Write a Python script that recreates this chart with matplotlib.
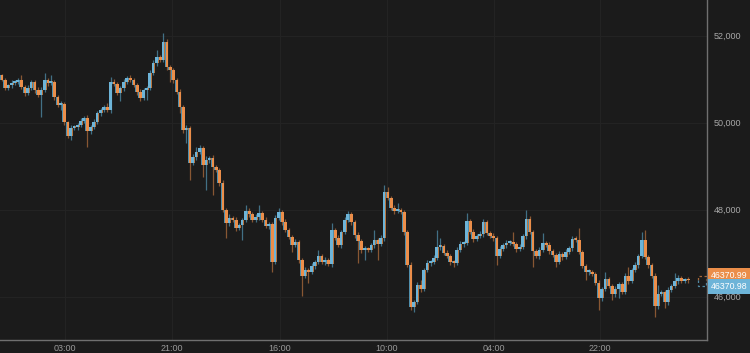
import matplotlib
matplotlib.use("Agg")
import matplotlib.pyplot as plt
import numpy as np

# close prices, one per candle
closes = [
    50981, 50797, 50866, 50912, 50935, 50981, 50820, 50682, 50797, 50935,
    50751, 50636, 50751, 50981, 50912, 50935, 50590, 50406, 50429, 50015,
    49693, 49877, 49900, 49946, 50038, 50107, 49808, 49900, 50015, 50222,
    50291, 50360, 50291, 50935, 50889, 50682, 50797, 50935, 51027, 50981,
    50866, 50705, 50567, 50751, 50797, 51142, 51372, 51510, 51441, 51855,
    51280, 51211, 50981, 50705, 50360, 49831, 49877, 49072, 49210, 49325,
    49417, 49026, 49141, 49187, 48980, 48911, 48612, 47991, 47692, 47807,
    47761, 47577, 47646, 47761, 47968, 47899, 47761, 47830, 47922, 47761,
    47623, 47669, 46795, 47807, 47945, 47715, 47531, 47370, 47186, 47255,
    46841, 46473, 46611, 46565, 46703, 46795, 46933, 46795, 46841, 46749,
    47531, 47347, 47186, 47485, 47761, 47899, 47715, 47416, 47278, 47071,
    47094, 47071, 47186, 47301, 47209, 47347, 48405, 48267, 48037, 47968,
    47991, 47945, 47485, 46726, 45760, 45875, 46266, 46174, 46611, 46772,
    46795, 46887, 47140, 47163, 47002, 46933, 46795, 46772, 47071, 47209,
    47232, 47738, 47485, 47324, 47393, 47439, 47715, 47462, 47393, 47347,
    46933, 47094, 47186, 47232, 47255, 47209, 47094, 47140, 47393, 47784,
    47485, 47048, 46933, 47071, 47232, 47186, 47048, 46956, 46795, 46979,
    46910, 47025, 47117, 47324, 47301, 47025, 46703, 46565, 46575, 46519,
    46312, 45967, 46174, 46404, 46243, 46059, 46174, 46289, 46105, 46473,
    46358, 46611, 46726, 46933, 47301, 46910, 46726, 46473, 45783, 46059,
    46105, 45875, 46151, 46243, 46358, 46427, 46358, 46404, 46370.99,
]
first_open = 51090

# wick lengths above / below the body (price units)
wick_up = [
    20, 40, 30, 60, 40, 50, 115, 40, 60, 50,
    40, 60, 70, 160, 40, 160, 50, 40, 60, 40,
    30, 60, 40, 50, 60, 40, 70, 40, 60, 40,
    50, 40, 90, 115, 60, 40, 50, 60, 40, 70,
    40, 50, 60, 40, 50, 70, 60, 160, 40, 210,
    60, 40, 50, 40, 60, 40, 70, 40, 60, 115,
    60, 40, 80, 50, 60, 40, 50, 60, 40, 90,
    40, 60, 50, 40, 140, 60, 40, 70, 180, 40,
    60, 40, 50, 60, 90, 40, 60, 40, 50, 60,
    40, 50, 60, 40, 70, 50, 140, 40, 60, 50,
    160, 40, 60, 50, 70, 60, 40, 50, 60, 40,
    60, 40, 50, 230, 40, 60, 160, 120, 50, 60,
    160, 40, 50, 40, 60, 40, 60, 110, 50, 60,
    40, 70, 390, 180, 50, 60, 40, 50, 70, 60,
    50, 180, 40, 60, 50, 70, 60, 40, 50, 60,
    40, 60, 50, 70, 40, 230, 50, 60, 40, 210,
    60, 40, 50, 60, 230, 40, 60, 50, 40, 60,
    50, 60, 40, 70, 60, 280, 40, 50, 60, 40,
    50, 60, 40, 160, 50, 40, 60, 50, 40, 60,
    210, 50, 60, 40, 180, 230, 50, 40, 60, 210,
    50, 40, 60, 50, 180, 60, 40, 30, 40,
]
wick_dn = [
    30, 50, 40, 60, 40, 50, 40, 60, 50, 40,
    60, 50, 510, 40, 60, 40, 70, 50, 115, 60,
    50, 90, 40, 60, 50, 40, 370, 60, 50, 40,
    60, 40, 50, 60, 40, 50, 180, 60, 40, 50,
    40, 60, 70, 50, 230, 40, 50, 60, 40, 50,
    70, 280, 60, 50, 140, 60, 300, 390, 50, 60,
    40, 280, 580, 60, 640, 50, 60, 40, 350, 60,
    50, 70, 40, 350, 40, 60, 50, 40, 60, 50,
    40, 60, 230, 50, 40, 60, 50, 40, 160, 50,
    60, 460, 50, 250, 40, 60, 50, 40, 60, 50,
    60, 40, 50, 60, 40, 50, 60, 70, 500, 60,
    230, 50, 40, 60, 370, 40, 60, 50, 40, 60,
    50, 40, 60, 50, 70, 110, 40, 60, 50, 40,
    60, 50, 40, 60, 50, 40, 60, 90, 40, 50,
    60, 40, 50, 60, 40, 50, 60, 40, 50, 60,
    200, 40, 50, 60, 40, 50, 60, 40, 50, 60,
    40, 370, 50, 60, 40, 50, 60, 40, 120, 50,
    60, 40, 50, 60, 40, 50, 50, 180, 60, 40,
    50, 280, 60, 40, 50, 140, 60, 210, 50, 40,
    60, 50, 40, 60, 50, 40, 60, 50, 250, 60,
    40, 140, 60, 50, 40, 60, 50, 40, 50,
]

tick_labels = ["03:00", "21:00", "16:00", "10:00", "04:00", "22:00"]
tick_pos = [19.2, 51.6, 84.4, 116.8, 149.2, 181.3]
y_ticks = [46000, 48000, 50000, 52000]
ask_price = "46370.99"
bid_price = "46370.98"

BG = "#1b1b1b"
BLUE = "#6db4d8"
ORANGE = "#eb8e4a"

closes = np.array(closes, dtype=float)
opens = np.concatenate([[first_open], closes[:-1]])
top = np.maximum(opens, closes)
bot = np.minimum(opens, closes)
highs = top + np.array(wick_up)
lows = bot - np.array(wick_dn)
x = np.arange(len(closes))
up = closes >= opens

fig = plt.figure(figsize=(7.5, 3.53), dpi=100, facecolor=BG)
ax = fig.add_axes([0, 13 / 353, 707 / 750, 340 / 353])
ax.set_facecolor(BG)

# grid
for p in tick_pos:
    ax.axvline(p, color="#232323", lw=0.8, zorder=0)
for v in y_ticks:
    ax.axhline(v, color="#232323", lw=0.8, zorder=0)

# wicks
ax.vlines(x[up], lows[up], highs[up], color="#4a8099", lw=0.9, alpha=0.85, zorder=1)
ax.vlines(x[~up], lows[~up], highs[~up], color="#9c6238", lw=0.9, alpha=0.85, zorder=1)

# bodies (a darker edge of the other side's colour gives the bid/ask two-tone)
h = np.maximum(top - bot, 35)
ax.bar(x[up] + 0.25, h[up], bottom=bot[up], width=0.7, color="#b7743f", lw=0, zorder=2)
ax.bar(x[~up] - 0.25, h[~up], bottom=bot[~up], width=0.7, color="#4f8eab", lw=0, zorder=2)
ax.bar(x[up] - 0.1, h[up], bottom=bot[up], width=0.8, color=BLUE, lw=0, zorder=3)
ax.bar(x[~up] + 0.1, h[~up], bottom=bot[~up], width=0.8, color=ORANGE, lw=0, zorder=3)

# dashed bracket of the live candle
last = closes[-1]
xa, xb = len(closes) + 2.2, len(closes) + 4.6
ax.plot([xa, xa, xb, xb], [last, last + 110, last + 110, last], ls=(0, (2, 2)),
        color="#a8683a", lw=0.9, zorder=2)
ax.plot([xa, xa, xb, xb], [last, last - 130, last - 130, last], ls=(0, (2, 2)),
        color="#4f8aa6", lw=0.9, zorder=2)

ax.set_xlim(-0.5, 213.8)
ax.set_ylim(45000, 52820)

ax.set_xticks(tick_pos)
ax.set_xticklabels(tick_labels)
ax.yaxis.tick_right()
ax.set_yticks(y_ticks)
ax.set_yticklabels([f"{v:,}" for v in y_ticks])
ax.tick_params(axis="x", length=0, pad=3, labelsize=6.5, labelcolor="#9a9a9a")
ax.tick_params(axis="y", length=0, pad=5, labelsize=6.5, labelcolor="#a8a8a8")
for lab in ax.get_xticklabels() + ax.get_yticklabels():
    lab.set_family("Liberation Sans")

for s in ["top", "left"]:
    ax.spines[s].set_visible(False)
for s in ["right", "bottom"]:
    ax.spines[s].set_color("#707070")
    ax.spines[s].set_linewidth(1.0)

# price tags
ax.annotate(ask_price, xy=(1, last), xycoords=("axes fraction", "data"),
            xytext=(4, 5), textcoords="offset pixels", va="center", ha="left",
            fontsize=6.3, color="white", family="Liberation Sans",
            bbox=dict(boxstyle="square,pad=0.3", fc=ORANGE, ec="none"))
ax.annotate(bid_price, xy=(1, last), xycoords=("axes fraction", "data"),
            xytext=(4, -6), textcoords="offset pixels", va="center", ha="left",
            fontsize=6.3, color="white", family="Liberation Sans",
            bbox=dict(boxstyle="square,pad=0.3", fc=BLUE, ec="none"))

fig.savefig("out.png", dpi=100, facecolor=BG)
